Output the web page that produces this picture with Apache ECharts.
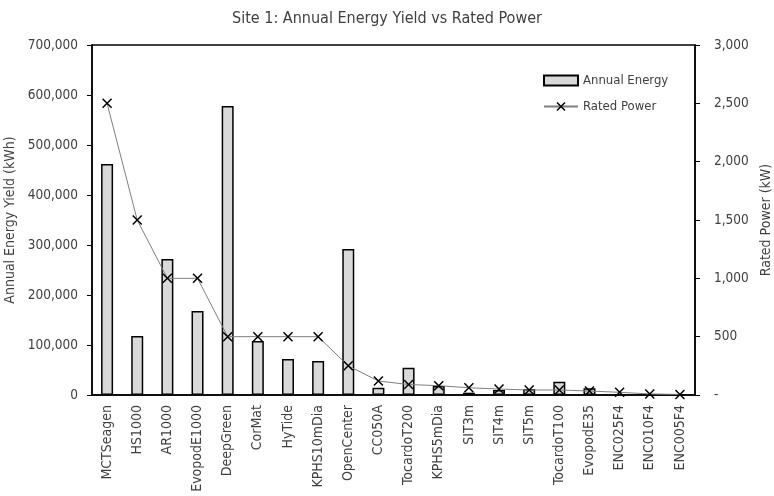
<!DOCTYPE html>
<html>
<head>
<meta charset="utf-8">
<script src="https://cdn.jsdelivr.net/npm/echarts@6/dist/echarts.min.js"></script>
<style>
  html, body { margin: 0; padding: 0; background: #fff; }
  #chart { width: 774px; height: 496px; }
</style>
</head>
<body>
<div id="chart"></div>
<script>
const devices = ['MCTSeagen', 'HS1000', 'AR1000', 'EvopodE1000', 'DeepGreen', 'CorMat', 'HyTide',
  'KPHS10mDia', 'OpenCenter', 'CC050A', 'TocardoT200', 'KPHS5mDia', 'SIT3m', 'SIT4m', 'SIT5m',
  'TocardoT100', 'EvopodE35', 'ENC025F4', 'ENC010F4', 'ENC005F4'];
const annualEnergy = [462000, 118000, 272000, 168000, 578000, 108000, 72000, 68000, 292000, 14600,
  54600, 18000, 4600, 10000, 12000, 26600, 13400, 600, 200, 100];
const ratedPower = [2500, 1500, 1000, 1000, 500, 500, 500, 500, 250, 120, 90, 80, 62, 51, 43,
  43, 34, 23, 9, 5];

const font = "'DejaVu Sans Condensed', sans-serif";
const textColor = '#404040';
const xMark = 'path://M0,0 L10,10 M10,0 L0,10';

const chart = echarts.init(document.getElementById('chart'));
chart.setOption({
  animation: false,
  textStyle: { fontFamily: font },
  title: {
    text: 'Site 1: Annual Energy Yield vs Rated Power',
    left: 'center',
    top: 6,
    textStyle: { fontSize: 16, fontWeight: 'normal', color: textColor, fontFamily: font }
  },
  grid: {
    left: 92, right: 79, top: 45, bottom: 101,
    outerBoundsMode: 'none',
    containLabel: false,
    show: true, borderColor: '#000', borderWidth: 1.5, backgroundColor: 'transparent'
  },
  legend: {
    orient: 'vertical',
    left: 538,
    top: 69,
    itemGap: 13,
    itemWidth: 34,
    itemHeight: 10,
    textStyle: { fontSize: 13, color: textColor, fontFamily: font },
    data: [
      { name: 'Annual Energy', icon: 'rect' },
      { name: 'Rated Power', itemStyle: { color: 'transparent', borderColor: '#000', borderWidth: 1.5 } }
    ]
  },
  xAxis: {
    type: 'category',
    data: devices,
    axisLine: { lineStyle: { color: '#000', width: 1.5 } },
    axisTick: { show: false },
    axisLabel: { rotate: 90, interval: 0, fontSize: 14, color: textColor, margin: 10, fontFamily: font }
  },
  yAxis: [
    {
      type: 'value',
      min: 0, max: 700000, interval: 100000,
      name: 'Annual Energy Yield (kWh)',
      nameLocation: 'middle',
      nameGap: 73,
      nameTextStyle: { fontSize: 14, color: textColor, fontFamily: font },
      splitLine: { show: false },
      axisLine: { show: true, lineStyle: { color: '#000', width: 1.5 } },
      axisTick: { show: true, length: 5, lineStyle: { color: '#000' } },
      axisLabel: {
        fontSize: 13.5, color: textColor, margin: 14, fontFamily: font,
        formatter: v => v.toLocaleString('en-US')
      }
    },
    {
      type: 'value',
      min: 0, max: 3000, interval: 500,
      name: 'Rated Power (kW)',
      nameLocation: 'middle',
      nameGap: 64,
      nameRotate: 90,
      nameTextStyle: { fontSize: 14, color: textColor, fontFamily: font },
      splitLine: { show: false },
      axisLine: { show: true, lineStyle: { color: '#000', width: 1.5 } },
      axisTick: { show: true, length: 5, lineStyle: { color: '#000' } },
      axisLabel: {
        fontSize: 13.5, color: textColor, margin: 19, fontFamily: font,
        formatter: v => v === 0 ? '-' : v.toLocaleString('en-US')
      }
    }
  ],
  series: [
    {
      name: 'Annual Energy',
      type: 'bar',
      data: annualEnergy,
      barWidth: 12,
      itemStyle: { color: '#d9d9d9', borderColor: '#000', borderWidth: 1.5 }
    },
    {
      name: 'Rated Power',
      type: 'line',
      yAxisIndex: 1,
      data: ratedPower,
      symbol: xMark,
      symbolSize: 9,
      lineStyle: { color: '#7f7f7f', width: 1 },
      itemStyle: { color: 'transparent', borderColor: '#000', borderWidth: 1.5 }
    }
  ]
});
</script>
</body>
</html>
